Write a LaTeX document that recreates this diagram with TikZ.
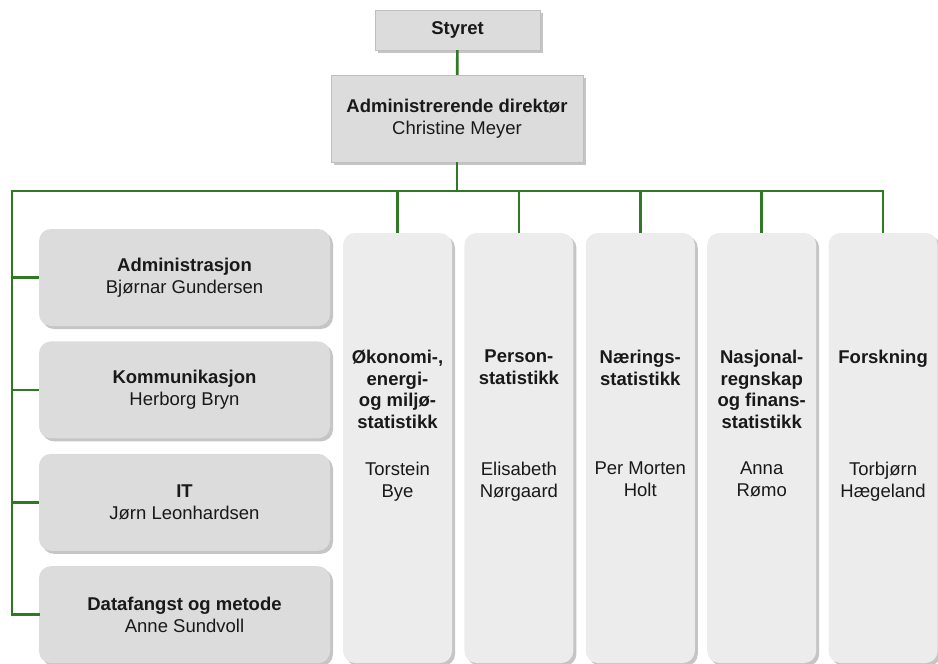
\documentclass[tikz,border=0pt]{standalone}
\usepackage{fontspec}
\setmainfont{Liberation Sans}
\usetikzlibrary{positioning, shadows}

\definecolor{orggreen}{HTML}{2E7A22}
\definecolor{boxgray}{HTML}{DCDCDC}
\definecolor{colgray}{HTML}{ECECEC}

\begin{document}
\begin{tikzpicture}[
    x=1pt, y=-1pt,
    every node/.style={font=\fontsize{18.5}{21.7}\selectfont, inner sep=0pt, text=black!90},
    boxshadow/.style={drop shadow={shadow xshift=3pt, shadow yshift=-3pt, fill=black!45}},
    topbox/.style={fill=boxgray, draw=black!25, boxshadow, align=center},
    unitbox/.style={fill=boxgray, boxshadow, rounded corners=12pt, align=center,
      minimum width=291pt, minimum height=97pt},
    divbox/.style={fill=colgray, boxshadow, rounded corners=12pt,
      minimum width=109pt, minimum height=430pt},
    divtxt/.style={align=center},
    link/.style={draw=orggreen, line width=2.7pt}]

  \useasboundingbox (0,0) rectangle (938,664);

  % top
  \node[topbox, minimum width=165pt, minimum height=40pt] at (457.5,30) (styret) {\bfseries Styret};
  \node[topbox, minimum width=252pt, minimum height=87pt] at (457,118.5) (dir)
    {\bfseries Administrerende direktør\\Christine Meyer};

  % staff units
  \node[unitbox] at (184.5,277.5) (adm) {\bfseries Administrasjon\\Bjørnar Gundersen};
  \node[unitbox, below=15pt of adm] (kom) {\bfseries Kommunikasjon\\Herborg Bryn};
  \node[unitbox, below=15pt of kom] (it) {\bfseries IT\\Jørn Leonhardsen};
  \node[unitbox, below=15pt of it] (data) {\bfseries Datafangst og metode\\Anne Sundvoll};

  % departments
  \node[divbox] at (397.5,448) (oko) {};
  \node[divbox, right=12pt of oko] (pers) {};
  \node[divbox, right=12pt of pers] (naer) {};
  \node[divbox, right=12pt of naer] (nasj) {};
  \node[divbox, right=12pt of nasj] (forsk) {};

  \node[divtxt, below=117pt of oko.north] (oko-t) {\bfseries Økonomi-,\\\bfseries energi-\\\bfseries og miljø-\\\bfseries statistikk};
  \node[divtxt, below=117pt of pers.north] (pers-t) {\bfseries Person-\\\bfseries statistikk};
  \node[divtxt, below=117pt of naer.north] (naer-t) {\bfseries Nærings-\\\bfseries statistikk};
  \node[divtxt, below=117pt of nasj.north] (nasj-t) {\bfseries Nasjonal-\\\bfseries regnskap\\\bfseries og finans-\\\bfseries statistikk};
  \node[divtxt, below=117pt of forsk.north] (forsk-t) {\bfseries Forskning};

  \node[divtxt, below=229pt of oko.north] (oko-n) {Torstein\\Bye};
  \node[divtxt, below=229pt of pers.north] (pers-n) {Elisabeth\\Nørgaard};
  \node[divtxt, below=229pt of naer.north] (naer-n) {Per Morten\\Holt};
  \node[divtxt, below=229pt of nasj.north] (nasj-n) {Anna\\Rømo};
  \node[divtxt, below=229pt of forsk.north] (forsk-n) {Torbjørn\\Hægeland};

  % lines
  \coordinate (bus) at (12,191);
  \draw[link] (styret) -- (dir);
  \draw[link] (dir) -- (dir |- bus);
  \draw[link, line cap=rect] (forsk.north |- bus) -- (bus) |- (data.west);
  \draw[link] (oko.north |- bus) -- (oko.north);
  \draw[link] (pers.north |- bus) -- (pers.north);
  \draw[link] (naer.north |- bus) -- (naer.north);
  \draw[link] (nasj.north |- bus) -- (nasj.north);
  \draw[link] (forsk.north |- bus) -- (forsk.north);
  \draw[link] (bus |- adm.west) -- (adm.west);
  \draw[link] (bus |- kom.west) -- (kom.west);
  \draw[link] (bus |- it.west) -- (it.west);
\end{tikzpicture}
\end{document}
